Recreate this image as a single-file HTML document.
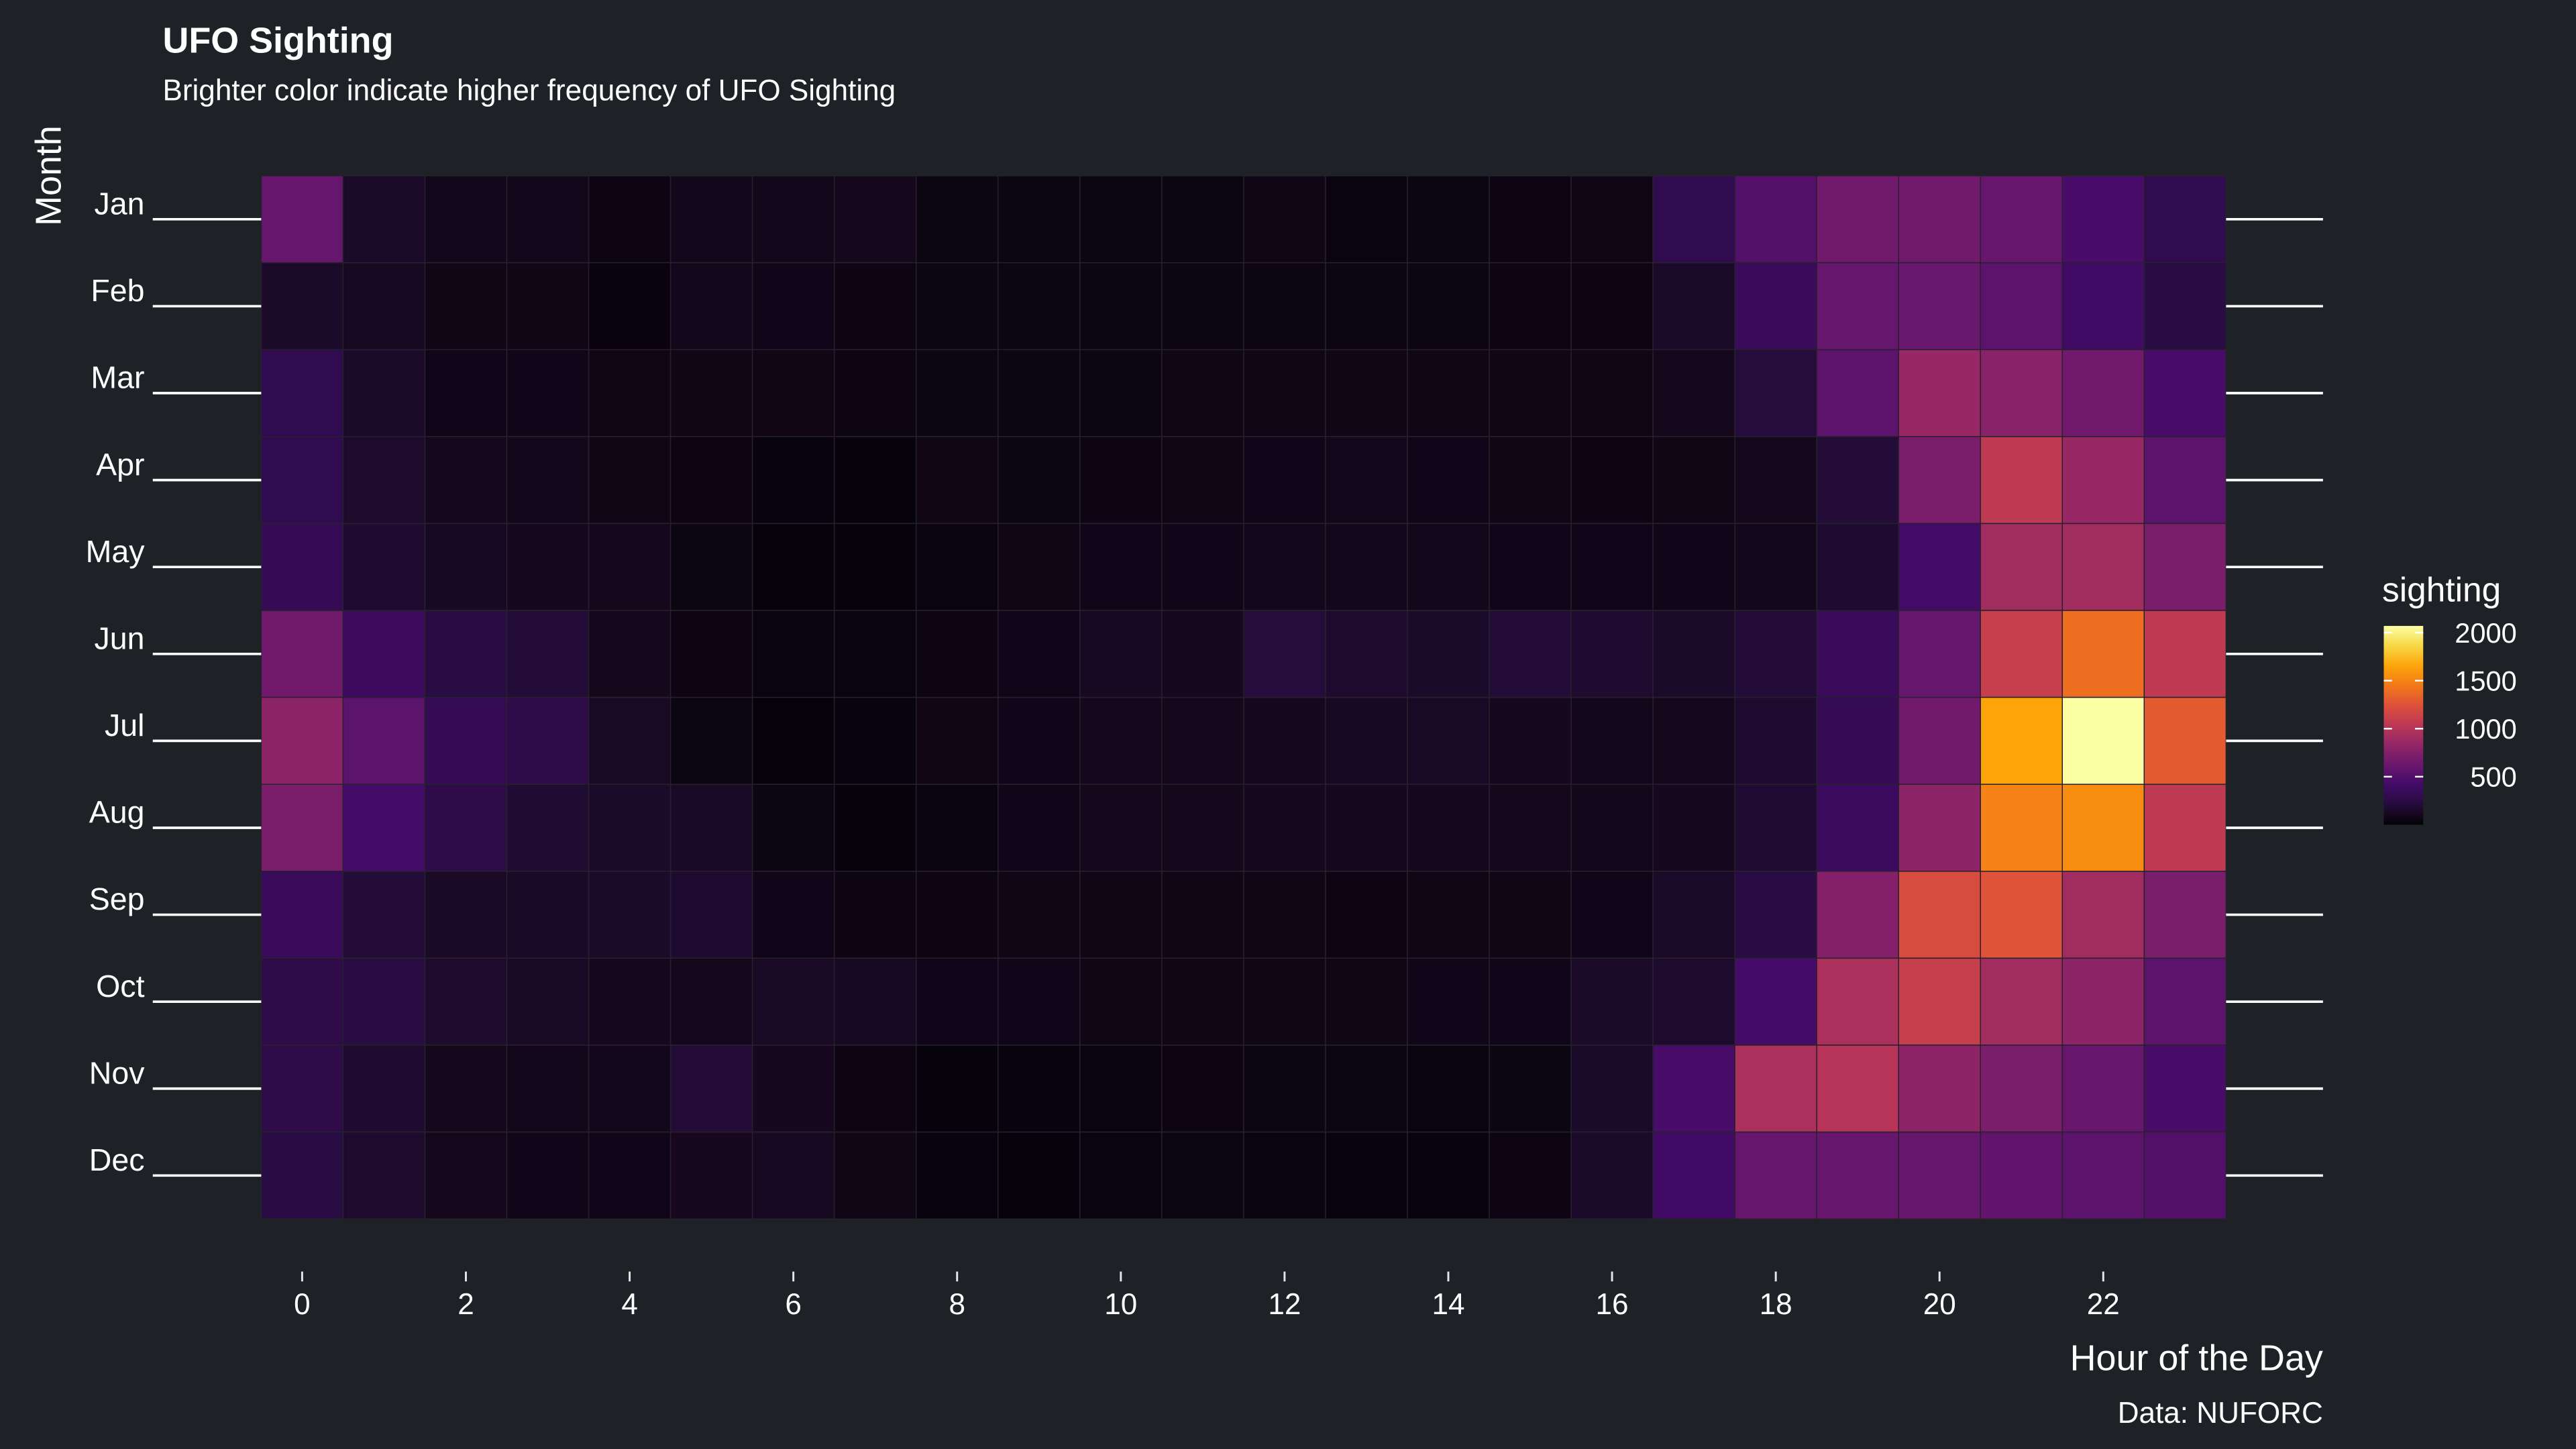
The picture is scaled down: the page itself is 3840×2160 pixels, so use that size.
<!DOCTYPE html>
<html><head><meta charset="utf-8"><style>
html,body{margin:0;padding:0;background:#1e2125;}
svg{display:block;font-family:"Liberation Sans",sans-serif;}
</style></head><body>
<svg id="chart" width="3840" height="2160" viewBox="0 0 1568 882" xmlns="http://www.w3.org/2000/svg">
<rect width="1568" height="882" fill="#1e2125"/>
<text x="99" y="32" fill="#ffffff" font-size="22" font-weight="bold">UFO Sighting</text>
<text x="99" y="61" fill="#ffffff" font-size="18">Brighter color indicate higher frequency of UFO Sighting</text>
<text transform="translate(37,107) rotate(-90)" text-anchor="middle" fill="#ffffff" font-size="22">Month</text>
<text x="1414" y="834" text-anchor="end" fill="#ffffff" font-size="22">Hour of the Day</text>
<text x="1414" y="866" text-anchor="end" fill="#ffffff" font-size="18">Data: NUFORC</text>
<g id="cells"></g>
<g id="axes"></g>
<g id="legend">
<text x="1450" y="366" fill="#ffffff" font-size="21">sighting</text>
<defs><linearGradient id="grad" x1="0" y1="1" x2="0" y2="0"></linearGradient></defs>
</g>
</svg>
<script>
const months = ["Jan","Feb","Mar","Apr","May","Jun","Jul","Aug","Sep","Oct","Nov","Dec"];
const hours = [0,1,2,3,4,5,6,7,8,9,10,11,12,13,14,15,16,17,18,19,20,21,22,23];
const xTicks = [0,2,4,6,8,10,12,14,16,18,20,22];
const legendTicks = [500,1000,1500,2000];
const janVals = [600,150,90,90,60,90,90,100,50,50,50,50,70,40,50,60,70,300,500,650,650,600,450,300];
const febVals = [150,120,70,70,30,90,80,60,50,50,50,50,50,50,50,60,60,150,350,600,620,550,400,250];
const marVals = [300,150,80,80,70,70,70,60,50,50,50,70,70,70,70,70,70,100,220,550,850,780,650,450];
const aprVals = [300,160,100,90,70,60,30,20,70,50,60,70,80,90,80,70,60,70,100,200,700,1050,850,550];
const mayVals = [330,170,120,110,100,50,10,20,40,70,80,80,90,90,90,80,80,80,90,170,420,900,900,700];
const junVals = [650,380,250,200,100,60,40,40,60,80,120,110,220,160,150,200,170,150,200,350,600,1100,1400,1050];
const julVals = [800,550,330,280,130,50,10,30,70,80,100,100,110,120,130,110,90,100,170,330,650,1650,2070,1300];
const augVals = [700,430,280,180,150,140,50,20,40,80,100,100,110,110,110,100,90,110,180,370,800,1500,1550,1050];
const sepVals = [350,200,140,140,150,170,80,60,60,70,70,70,70,60,70,70,80,150,250,750,1200,1250,900,700];
const octVals = [280,250,160,130,110,100,130,120,80,80,70,70,70,70,80,80,150,160,430,950,1100,900,800,550];
const novVals = [280,170,100,90,90,200,110,60,20,30,40,60,50,50,40,50,150,450,950,1000,800,700,600,450];
const decVals = [250,160,100,80,80,110,120,70,30,20,40,50,40,30,30,60,150,400,600,600,600,580,550,500];
const values = [janVals,febVals,marVals,aprVals,mayVals,junVals,julVals,augVals,sepVals,octVals,novVals,decVals];

const NS="http://www.w3.org/2000/svg";
const X0=159,X1=1355,Y0=107,Y1=742,VMAX=2070;
const cw=(X1-X0)/hours.length, ch=(Y1-Y0)/months.length;
const xPos=h=>X0+cw*h;
const yPos=i=>Y0+ch*i;
const stops=[[0,3,2,8],[0.02,10,4,16],[0.05,22,8,30],[0.1,36,12,58],[0.2,66,10,104],[0.3,106,23,110],[0.4,147,38,103],[0.5,188,55,84],[0.6,221,81,58],[0.7,243,120,25],[0.8,252,165,10],[0.9,246,215,70],[1,252,255,164]];
function inferno(v){const t=Math.max(0,Math.min(1,v/VMAX));let i=0;while(i<stops.length-2&&t>stops[i+1][0])i++;
const a=stops[i],b=stops[i+1];const f=(t-a[0])/(b[0]-a[0]);
return `rgb(${Math.round(a[1]+(b[1]-a[1])*f)},${Math.round(a[2]+(b[2]-a[2])*f)},${Math.round(a[3]+(b[3]-a[3])*f)})`;}
function mk(tag,attrs,parent){const e=document.createElementNS(NS,tag);for(const k in attrs)e.setAttribute(k,attrs[k]);parent.appendChild(e);return e;}
const cells=document.getElementById('cells'),axes=document.getElementById('axes'),legend=document.getElementById('legend');
values.forEach((row,i)=>{row.forEach((v,h)=>{
 const r=mk('rect',{x:xPos(h),y:yPos(i),width:cw,height:ch,fill:inferno(v),stroke:'#25222c','stroke-width':0.6},cells);
 
 
});});
months.forEach((m,i)=>{
 const cy=yPos(i)+ch/2;
 const l=mk('line',{x1:93,x2:X0,y1:cy,y2:cy,stroke:'#ffffff','stroke-width':1.5},axes);
 
 
 const r=mk('line',{x1:X1,x2:1414,y1:cy,y2:cy,stroke:'#ffffff','stroke-width':1.5},axes);
 
 
 const t=mk('text',{x:88,y:cy-3,'text-anchor':'end',fill:'#ffffff','font-size':19},axes);
 t.textContent=m;
 
 
});
xTicks.forEach(h=>{
 const cx=xPos(h)+cw/2;
 const k=mk('line',{x1:cx,x2:cx,y1:774,y2:780,stroke:'#e6e6e6','stroke-width':1.2},axes);
 
 
 const t=mk('text',{x:cx,y:800,'text-anchor':'middle',fill:'#ffffff','font-size':18},axes);
 t.textContent=h;
 
 
});
const grad=document.getElementById('grad');
for(let k=0;k<=40;k++){mk('stop',{offset:(k/40),'stop-color':inferno(VMAX*k/40)},grad);}
const LB0=381,LB1=502;
const bar=mk('rect',{x:1451,y:LB0,width:24,height:LB1-LB0,fill:'url(#grad)'},legend);


legendTicks.forEach(v=>{
 const y=LB1-(LB1-LB0)*v/VMAX;
 const l=mk('line',{x1:1451,x2:1456,y1:y,y2:y,stroke:'#ffffff','stroke-width':1},legend);
 
 
 const l2=mk('line',{x1:1470,x2:1475,y1:y,y2:y,stroke:'#ffffff','stroke-width':1},legend);
 
 
 const t=mk('text',{x:1532,y:y+6,'text-anchor':'end',fill:'#ffffff','font-size':17},legend);
 t.textContent=v;
 
 
});
</script>
</body></html>
